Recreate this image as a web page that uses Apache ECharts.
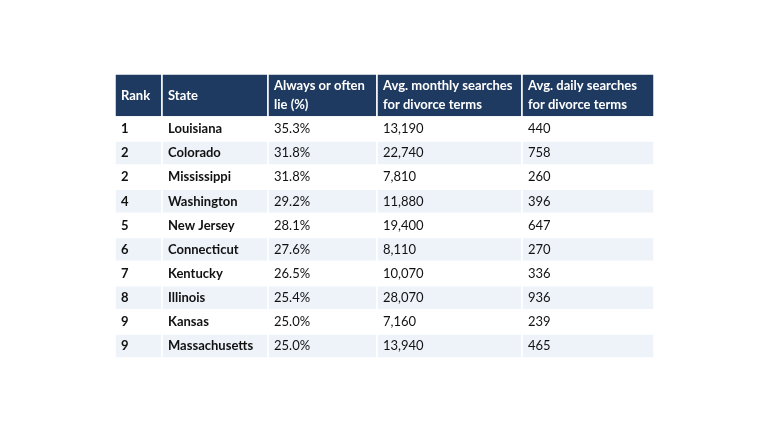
<!DOCTYPE html>
<html><head><meta charset="utf-8">
<script src="https://cdn.jsdelivr.net/npm/echarts@6/dist/echarts.min.js"></script>
<style>html,body{margin:0;background:#fff}#c{width:768px;height:432px}</style>
</head><body><div id="c"></div>
<script>
const headers = ["Rank","State","Always or often\nlie (%)","Avg. monthly searches\nfor divorce terms","Avg. daily searches\nfor divorce terms"];
const ranks = ["1","2","2","4","5","6","7","8","9","9"];
const states = ["Louisiana","Colorado","Mississippi","Washington","New Jersey","Connecticut","Kentucky","Illinois","Kansas","Massachusetts"];
const liePct = ["35.3%","31.8%","31.8%","29.2%","28.1%","27.6%","26.5%","25.4%","25.0%","25.0%"];
const monthly = ["13,190","22,740","7,810","11,880","19,400","8,110","10,070","28,070","7,160","13,940"];
const daily = ["440","758","260","396","647","270","336","936","239","465"];

const colEdges = [0,47,153,262,407,539];
const headerH = 43, rowH = 24.1;
const cols = [ranks, states, liePct, monthly, daily];
const data = [];
headers.forEach((h,c)=>data.push([c,-1,h]));
for (let r=0;r<ranks.length;r++) cols.forEach((arr,c)=>data.push([c,r,arr[r]]));

const chart = echarts.init(document.getElementById('c'));
chart.setOption({
  animation:false,
  grid:{left:115,right:114,top:74,bottom:74},
  xAxis:{type:'value',min:0,max:539,show:false},
  yAxis:{type:'value',min:0,max:headerH+rowH*10,inverse:true,show:false},
  series:[{
    type:'custom',
    data:data,
    renderItem:function(params,api){
      const c=api.value(0), r=api.value(1), txt=data[params.dataIndex][2];
      const y0 = r<0?0:headerH+r*rowH, y1 = r<0?headerH:headerH+(r+1)*rowH;
      const p0=api.coord([colEdges[c],y0]), p1=api.coord([colEdges[c+1],y1]);
      const isH = r<0;
      const fill = isH?'#1f3a60':(r%2===1?'#eef3fa':'#ffffff');
      return {type:'group',children:[
        {type:'rect',shape:{x:p0[0],y:p0[1],width:p1[0]-p0[0],height:p1[1]-p0[1]},
         style:{fill:fill,stroke:'#ffffff',lineWidth:1.5}},
        {type:'text',x:p0[0]+6,y:(p0[1]+p1[1])/2,
         style:{text:txt,fill:isH?'#ffffff':'#111111',
           font:((isH||c<2)?'bold ':'')+'13px Lato, "Open Sans", sans-serif',
           verticalAlign:'middle',align:'left',lineHeight:19}}
      ]};
    }
  }]
});
</script></body></html>
